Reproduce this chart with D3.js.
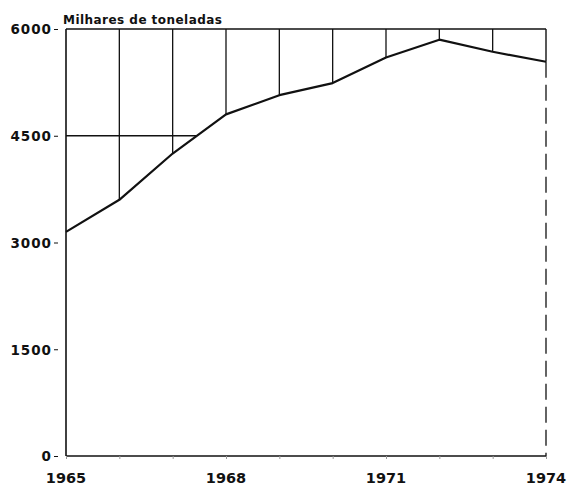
<!DOCTYPE html>
<html>
<head>
<meta charset="utf-8">
<script src="https://cdn.jsdelivr.net/npm/d3@7"></script>
<style>
  html, body { margin: 0; padding: 0; background: #fff; }
  svg { display: block; }
  .lbl { font-family: "DejaVu Sans", sans-serif; font-weight: bold; fill: #111; }
</style>
</head>
<body>
<svg id="chart" width="569" height="485"></svg>
<script>
// Production, thousands of tonnes, 1965-1974
const years  = [1965, 1966, 1967, 1968, 1969, 1970, 1971, 1972, 1973, 1974];
const values = [3150, 3600, 4250, 4800, 5070, 5240, 5600, 5850, 5680, 5540];
const yTicks = [0, 1500, 3000, 4500, 6000];
const xTickLabels = [1965, 1968, 1971, 1974];
const unitLabel = "Milhares de toneladas";

const svg = d3.select("#chart");
const plotLeft = 66, plotRight = 546, plotTop = 29, plotBottom = 456;
const ink = "#111";

const x = d3.scaleLinear().domain([1965, 1974]).range([plotLeft, plotRight]);
const y = d3.scaleLinear().domain([0, 6000]).range([plotBottom, plotTop]);

const pts = years.map((yr, i) => ({ yr, v: values[i] }));

// grid only shows in the band between the curve and the top of the frame
const clipArea = d3.area()
  .x(d => x(d.yr))
  .y0(y(6000))
  .y1(d => y(d.v));
svg.append("clipPath").attr("id", "above")
  .append("path").attr("d", clipArea(pts));

const grid = svg.append("g").attr("clip-path", "url(#above)")
  .attr("stroke", ink).attr("stroke-width", 1.3).attr("fill", "none");
grid.selectAll("line.v").data(years.slice(1, -1)).join("line")
  .attr("class", "v")
  .attr("x1", d => x(d)).attr("x2", d => x(d))
  .attr("y1", y(6000)).attr("y2", y(0));
grid.selectAll("line.h").data(yTicks.slice(1, -1)).join("line")
  .attr("class", "h")
  .attr("x1", plotLeft).attr("x2", plotRight)
  .attr("y1", d => y(d)).attr("y2", d => y(d));

// frame: left, bottom, top solid; right side broken below the curve
const frame = svg.append("g").attr("stroke", ink).attr("fill", "none");
frame.append("line").attr("x1", plotLeft).attr("x2", plotLeft)
  .attr("y1", y(6000)).attr("y2", y(0)).attr("stroke-width", 1.6);
frame.append("line").attr("x1", plotLeft).attr("x2", plotRight)
  .attr("y1", y(0)).attr("y2", y(0)).attr("stroke-width", 1.6);
frame.append("line").attr("x1", plotLeft).attr("x2", plotRight)
  .attr("y1", y(6000)).attr("y2", y(6000)).attr("stroke-width", 1.4);
frame.append("line").attr("x1", plotRight).attr("x2", plotRight)
  .attr("y1", y(6000)).attr("y2", y(values[values.length - 1]))
  .attr("stroke-width", 1.4);
frame.append("line").attr("x1", plotRight).attr("x2", plotRight)
  .attr("y1", y(values[values.length - 1])).attr("y2", y(0))
  .attr("stroke-width", 1.3).attr("stroke-dasharray", "16,7");

// the production curve
const line = d3.line().x(d => x(d.yr)).y(d => y(d.v));
svg.append("path").attr("d", line(pts))
  .attr("fill", "none").attr("stroke", ink)
  .attr("stroke-width", 2.2).attr("stroke-linejoin", "round");

// y axis
const yAxis = svg.append("g").attr("transform", `translate(${plotLeft},0)`)
  .call(d3.axisLeft(y).tickValues(yTicks).tickSize(0).tickPadding(14).tickFormat(d3.format("d")));
yAxis.select(".domain").remove();
yAxis.selectAll("text").attr("class", "lbl")
  .attr("font-size", 13.5).attr("letter-spacing", 1).attr("dy", "0.36em");
yAxis.selectAll(".tick").append("line")
  .attr("x1", -12).attr("x2", -8).attr("stroke", ink).attr("stroke-width", 1);

// x axis
const xAxis = svg.append("g").attr("transform", `translate(0,${plotBottom})`)
  .call(d3.axisBottom(x).tickValues(years).tickSize(3).tickPadding(0).tickFormat(""));
xAxis.select(".domain").remove();
xAxis.selectAll(".tick line").attr("stroke", "#999").attr("stroke-width", 1);
svg.append("g").selectAll("text").data(xTickLabels).join("text")
  .attr("class", "lbl")
  .attr("x", d => x(d)).attr("y", 483)
  .attr("text-anchor", "middle").attr("font-size", 14.5)
  .text(d => d);

// unit label
svg.append("text").attr("class", "lbl")
  .attr("x", 63).attr("y", 24)
  .attr("font-size", 12)
  .attr("textLength", 159).attr("lengthAdjust", "spacing")
  .text(unitLabel);
</script>
</body>
</html>
